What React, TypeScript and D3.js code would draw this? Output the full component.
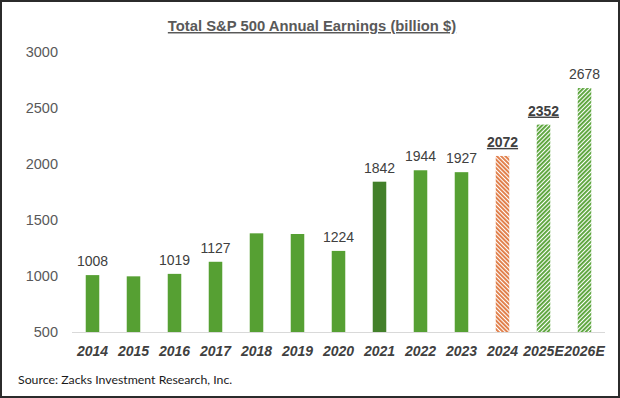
import { useRef, useEffect } from "react";
import * as d3 from "d3";

const years = ["2014", "2015", "2016", "2017", "2018", "2019", "2020", "2021", "2022", "2023", "2024", "2025E", "2026E"];
const earnings = [1008, 997, 1019, 1127, 1381, 1375, 1224, 1842, 1944, 1927, 2072, 2352, 2678];
const showLabel = [true, false, true, true, false, false, true, true, true, true, true, true, true];
const emphasised = ["2024", "2025E"];
const yTicks = [500, 1000, 1500, 2000, 2500, 3000];

const W = 620;
const H = 398;

function fillFor(year: string) {
  if (year === "2021") return "#43802a";
  if (year === "2024") return "url(#hatchOrange)";
  if (year.endsWith("E")) return "url(#hatchGreen)";
  return "#56a033";
}

export default function App() {
  const svgRef = useRef<SVGSVGElement>(null);

  useEffect(() => {
    if (!svgRef.current) return;
    const svg = d3.select(svgRef.current);
    svg.selectAll("*").remove();

    const defs = svg.append("defs");
    const hatch = (id: string, color: string, angle: number) => {
      const p = defs
        .append("pattern")
        .attr("id", id)
        .attr("patternUnits", "userSpaceOnUse")
        .attr("width", 3)
        .attr("height", 3)
        .attr("patternTransform", `rotate(${angle})`);
      p.append("rect").attr("width", 3).attr("height", 3).attr("fill", "#ffffff");
      p.append("rect").attr("width", 1.9).attr("height", 3).attr("fill", color);
    };
    hatch("hatchOrange", "#e07b45", -45);
    hatch("hatchGreen", "#5aa43a", 45);

    // frame
    svg.append("rect")
      .attr("x", 1).attr("y", 1)
      .attr("width", W - 2).attr("height", H - 2)
      .attr("fill", "#ffffff")
      .attr("stroke", "#2b2b2b")
      .attr("stroke-width", 2);

    const x = d3.scaleBand<string>().domain(years).range([72, 605]).paddingInner(0.67).paddingOuter(0.335);
    const y = d3.scaleLinear().domain([500, 3000]).range([332, 52]);

    // title
    svg.append("text")
      .attr("x", 312).attr("y", 31)
      .attr("text-anchor", "middle")
      .attr("font-family", "'Liberation Sans', Arial, sans-serif")
      .attr("font-size", 14.8)
      .attr("font-weight", "bold")
      .attr("fill", "#595959")
      .attr("text-decoration", "underline")
      .text("Total S&P 500 Annual Earnings (billion $)");

    // y tick labels
    svg.append("g")
      .selectAll("text")
      .data(yTicks)
      .join("text")
      .attr("x", 58)
      .attr("y", (d) => y(d) + 5)
      .attr("text-anchor", "end")
      .attr("font-family", "'Liberation Sans', Arial, sans-serif")
      .attr("font-size", 14.5)
      .attr("fill", "#595959")
      .text((d) => d);

    // baseline
    svg.append("line")
      .attr("x1", 72).attr("x2", 605)
      .attr("y1", y(500) + 0.5).attr("y2", y(500) + 0.5)
      .attr("stroke", "#d9d9d9")
      .attr("stroke-width", 1);

    const data = years.map((yr, i) => ({ yr, v: earnings[i], lab: showLabel[i] }));

    svg.append("g")
      .selectAll("rect")
      .data(data)
      .join("rect")
      .attr("x", (d) => x(d.yr)!)
      .attr("width", x.bandwidth())
      .attr("y", (d) => y(d.v))
      .attr("height", (d) => y(500) - y(d.v))
      .attr("fill", (d) => fillFor(d.yr));

    // value labels
    svg.append("g")
      .selectAll("text")
      .data(data.filter((d) => d.lab))
      .join("text")
      .attr("x", (d) => x(d.yr)! + x.bandwidth() / 2)
      .attr("y", (d) => y(d.v) - 9)
      .attr("text-anchor", "middle")
      .attr("font-family", "'Liberation Sans', Arial, sans-serif")
      .attr("font-size", 14)
      .attr("fill", "#404040")
      .attr("font-weight", (d) => (emphasised.includes(d.yr) ? "bold" : "normal"))
      .attr("text-decoration", (d) => (emphasised.includes(d.yr) ? "underline" : "none"))
      .text((d) => d.v);

    // x labels
    svg.append("g")
      .selectAll("text")
      .data(years)
      .join("text")
      .attr("x", (d) => x(d)! + x.bandwidth() / 2)
      .attr("y", 356)
      .attr("text-anchor", "middle")
      .attr("font-family", "'Liberation Sans', Arial, sans-serif")
      .attr("font-size", 14)
      .attr("font-weight", "bold")
      .attr("font-style", "italic")
      .attr("fill", "#404040")
      .text((d) => d);

    // source
    svg.append("text")
      .attr("x", 18).attr("y", 384)
      .attr("font-family", "Lato, 'Open Sans', sans-serif")
      .attr("font-size", 12.3)
      .attr("fill", "#1a1a1a")
      .text("Source: Zacks Investment Research, Inc.");
  }, []);

  return (
    <svg
      ref={svgRef}
      width={W}
      height={H}
      style={{ display: "block", position: "absolute", left: 0, top: 0 }}
    />
  );
}
